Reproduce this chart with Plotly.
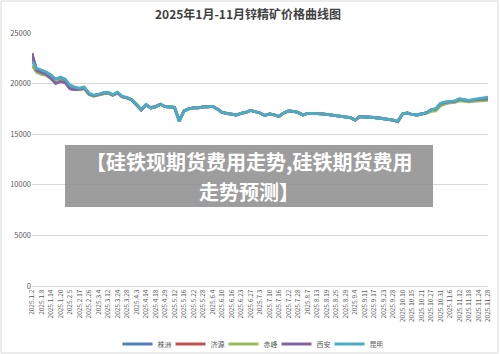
import plotly.graph_objects as go

tick_labels = ["2025.1.2","2025.1.8","2025.1.14","2025.1.20","2025.2.5","2025.2.17","2025.2.26",
               "2025.3.4","2025.3.12","2025.3.24","2025.3.28","2025.4.3","2025.4.14","2025.4.18","2025.4.29",
               "2025.5.12","2025.5.16","2025.5.22","2025.5.28","2025.6.4","2025.6.10","2025.6.16","2025.6.23",
               "2025.6.27","2025.7.3","2025.7.10","2025.7.16","2025.7.22","2025.7.28","2025.8.7","2025.8.13",
               "2025.8.19","2025.8.25","2025.8.29","2025.9.4","2025.9.11","2025.9.17","2025.9.23","2025.9.28",
               "2025.10.10","2025.10.15","2025.10.21","2025.10.27","2025.10.31","2025.11.6","2025.11.12",
               "2025.11.18","2025.11.24","2025.11.28"]
y_ticks = [0, 5000, 10000, 15000, 20000, 25000]

zhuzhou = [22500,21400,21200,21000,20700,20300,20500,20300,19700,19500,
           19500,19600,19000,18800,18900,19050,19100,18870,19100,18700,
           18600,18380,17900,17400,17900,17600,17700,17950,17720,17700,
           17650,16300,17300,17500,17600,17600,17700,17700,17750,17500,
           17150,17050,16950,16900,17050,17150,17350,17200,17100,16850,
           17000,16900,16750,17100,17300,17250,17150,16900,17050,17050,
           17050,17000,16950,16900,16850,16800,16750,16650,16400,16730,
           16700,16700,16650,16600,16550,16500,16400,16250,17000,17100,
           16950,16900,17000,17100,17400,17500,18000,18150,18200,18250,
           18450,18350,18300,18400,18450,18500,18600]
jiyuan = [22800,21300,21100,20900,20500,20100,20300,20100,19500,19400,
          19400,19500,18950,18800,18900,19000,19050,18850,19050,18700,
          18600,18380,17900,17400,17900,17650,17750,17950,17720,17700,
          17650,16350,17300,17500,17600,17600,17700,17700,17750,17500,
          17150,17050,16950,16900,17050,17150,17350,17200,17100,16850,
          17000,16900,16750,17100,17300,17250,17150,16900,17050,17050,
          17050,17000,16950,16900,16850,16800,16750,16650,16400,16730,
          16700,16700,16650,16600,16550,16500,16400,16250,17000,17100,
          16950,16900,17000,17100,17350,17450,17950,18100,18150,18200,
          18400,18300,18250,18350,18400,18400,18450]
chifeng = [21800,21100,20900,20800,20500,20200,20300,20100,19600,19400,
           19400,19500,18950,18750,18850,19000,19050,18850,19050,18700,
           18600,18380,17900,17400,17900,17600,17700,17950,17720,17700,
           17650,16300,17300,17500,17600,17600,17700,17700,17750,17500,
           17150,17050,16950,16900,17050,17150,17350,17200,17100,16850,
           17000,16900,16750,17100,17300,17250,17150,16900,17050,17050,
           17050,17000,16950,16900,16850,16800,16750,16650,16400,16730,
           16700,16700,16650,16600,16550,16500,16400,16250,17000,17100,
           16950,16900,17000,17050,17250,17300,17800,18000,18100,18150,
           18300,18250,18200,18250,18300,18300,18350]
xian = [23000,21300,21100,20900,20500,20000,20200,20100,19500,19400,
        19450,19550,19000,18800,18900,19050,19100,18870,19100,18700,
        18600,18380,17900,17400,17900,17600,17700,17950,17720,17700,
        17650,16300,17300,17500,17600,17600,17700,17700,17750,17500,
        17150,17050,16950,16900,17050,17150,17350,17200,17100,16850,
        17000,16900,16750,17100,17300,17250,17150,16900,17050,17050,
        17050,17000,16950,16900,16850,16800,16750,16650,16400,16730,
        16700,16700,16650,16600,16550,16500,16400,16250,17000,17100,
        16950,16900,17000,17100,17400,17500,18000,18150,18200,18250,
        18450,18350,18300,18400,18450,18450,18500]
kunming = [22200,21500,21350,21150,20850,20450,20650,20450,19850,19650,
           19550,19650,19050,18850,18950,19100,19150,18900,19150,18750,
           18650,18400,17950,17450,17950,17600,17700,17950,17750,17700,
           17650,16250,17300,17500,17600,17600,17700,17700,17750,17500,
           17150,17050,16950,16900,17050,17150,17350,17200,17100,16850,
           17000,16900,16750,17100,17300,17250,17150,16900,17050,17050,
           17050,17000,16950,16900,16850,16800,16750,16650,16400,16730,
           16700,16700,16650,16600,16550,16500,16400,16250,17000,17100,
           16950,16900,17000,17100,17400,17500,18050,18200,18250,18300,
           18500,18400,18350,18450,18500,18550,18650]

series_names = ["株洲", "济源", "赤峰", "西安", "昆明"]
series_values = [zhuzhou, jiyuan, chifeng, xian, kunming]
colors = ["#4F81BD", "#C0504D", "#9BBB59", "#8064A2", "#4BACC6"]

x_idx = list(range(len(zhuzhou)))
tick_pos = x_idx[::2]

font_cjk = "Noto Sans CJK SC, Noto Sans, sans-serif"

fig = go.Figure()
for name, vals, col in zip(series_names, series_values, colors):
    fig.add_trace(go.Scatter(x=x_idx, y=vals, mode="lines", name=name,
                             line=dict(color=col, width=2.8)))

fig.update_layout(
    width=500, height=354,
    margin=dict(l=32, r=12, t=33, b=68, autoexpand=False),
    paper_bgcolor="white", plot_bgcolor="white",
    font=dict(family=font_cjk, color="#595959"),
    title=dict(text="<b>2025年1月-11月锌精矿价格曲线图</b>", x=0.496, xanchor="center",
               y=1 - 15 / 354, yanchor="middle", font=dict(size=12, color="#404040")),
    showlegend=True,
    legend=dict(orientation="h", xref="container", yref="container",
                x=0.5, xanchor="center", y=1 - 344 / 354, yanchor="middle",
                font=dict(size=7, color="#595959"), itemwidth=30,
                entrywidth=8, entrywidthmode="pixels", bgcolor="rgba(0,0,0,0)"),
    xaxis=dict(range=[0, len(zhuzhou) - 1], tickvals=tick_pos, ticktext=tick_labels,
               tickangle=-90, tickfont=dict(size=6.5, color="#595959"),
               showgrid=False, zeroline=False, showline=True, linecolor="#d9d9d9",
               ticks="", fixedrange=True, automargin=False),
    yaxis=dict(range=[0, 25000], tickvals=y_ticks, ticktext=[str(v) for v in y_ticks],
               tickfont=dict(size=7.5, color="#595959"), showgrid=True, gridcolor="#d9d9d9",
               gridwidth=1, zeroline=False, ticks="", fixedrange=True, automargin=False),
)

# outer chart border
fig.add_shape(type="rect", xref="paper", yref="paper",
              x0=(1 - 32) / 456, x1=(498 - 32) / 456, y0=(286 - 353) / 253, y1=(286 - 1) / 253,
              line=dict(color="#d9d9d9", width=1), fillcolor="rgba(0,0,0,0)", layer="below")

# watermark overlay box
fig.add_shape(type="rect", xref="paper", yref="paper",
              x0=(65 - 32) / 456, x1=(433 - 32) / 456, y0=(286 - 207) / 253, y1=(286 - 145) / 253,
              line=dict(width=0), fillcolor="rgba(140,140,140,0.85)", layer="above")
fig.add_annotation(xref="paper", yref="paper", x=(249 - 32) / 456, y=(286 - 162) / 253,
                   text="<b>【硅铁现期货费用走势,硅铁期货费用</b>", showarrow=False,
                   xanchor="center", yanchor="middle",
                   font=dict(family=font_cjk, size=20, color="white"))
fig.add_annotation(xref="paper", yref="paper", x=(249 - 32) / 456, y=(286 - 192) / 253,
                   text="<b>走势预测】</b>", showarrow=False,
                   xanchor="center", yanchor="middle",
                   font=dict(family=font_cjk, size=20, color="white"))

fig.write_html("out.html")
